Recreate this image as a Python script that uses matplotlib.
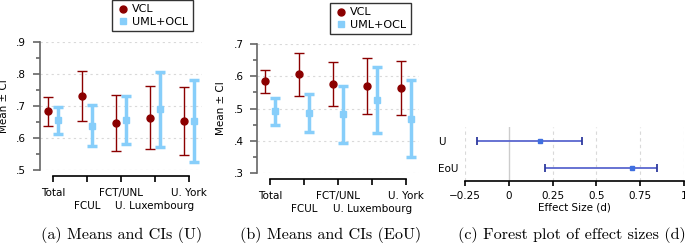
# -*- coding: utf-8 -*-
import matplotlib
matplotlib.use('Agg')
import matplotlib.pyplot as plt
from matplotlib.lines import Line2D
from matplotlib.ticker import FuncFormatter, MultipleLocator

# group labels shared by panels (a) and (b)
groups = ['Total', 'FCUL', 'FCT/UNL', 'U. Luxembourg', 'U. York']

# panel (a): usability (U)
u_vcl_mean = [0.683, 0.730, 0.647, 0.663, 0.653]
u_vcl_low = [0.636, 0.652, 0.559, 0.565, 0.547]
u_vcl_high = [0.728, 0.810, 0.733, 0.764, 0.759]
u_uml_mean = [0.657, 0.639, 0.657, 0.690, 0.653]
u_uml_low = [0.613, 0.575, 0.581, 0.573, 0.525]
u_uml_high = [0.698, 0.704, 0.732, 0.806, 0.782]

# panel (b): ease of use (EoU)
e_vcl_mean = [0.584, 0.607, 0.577, 0.571, 0.564]
e_vcl_low = [0.547, 0.539, 0.508, 0.484, 0.479]
e_vcl_high = [0.619, 0.673, 0.643, 0.656, 0.648]
e_uml_mean = [0.491, 0.487, 0.482, 0.526, 0.468]
e_uml_low = [0.449, 0.428, 0.392, 0.423, 0.349]
e_uml_high = [0.533, 0.546, 0.571, 0.630, 0.587]

# panel (c): effect sizes
es_labels = ['U', 'EoU']
es_d = [0.18, 0.70]
es_low = [-0.18, 0.208]
es_high = [0.42, 0.845]

plt.rcParams['font.family'] = ['DejaVu Sans']
plt.rcParams['font.size'] = 7.5

VCL_RED = '#8b0000'
UML_BLUE = '#87cefa'
GRID = '#d9d9d9'
SPINE = '#666666'


def nolead(v, pos):
    return ('%.1f' % v).lstrip('0')


def means_panel(fig, ax, vm, vl, vh, um, ul, uh, ylo, yhi, leg_xy):
    x = list(range(len(groups)))
    xv = [i - 0.15 for i in x]
    xu = [i + 0.15 for i in x]
    ax.errorbar(xv, vm, [[m - l for m, l in zip(vm, vl)], [h - m for m, h in zip(vm, vh)]],
                fmt='o', color=VCL_RED, ms=5, lw=1, capsize=3.5, capthick=1,
                clip_on=False, zorder=3)
    ax.errorbar(xu, um, [[m - l for m, l in zip(um, ul)], [h - m for m, h in zip(um, uh)]],
                fmt='s', color=UML_BLUE, ms=4.5, lw=2.5, capsize=3.5, capthick=2.5,
                clip_on=False, zorder=3)
    ax.set_xlim(-0.38, 4.38)
    ax.set_ylim(ylo, yhi)
    ax.yaxis.set_major_locator(MultipleLocator(0.1))
    ax.yaxis.set_minor_locator(MultipleLocator(0.05))
    ax.yaxis.set_major_formatter(FuncFormatter(nolead))
    ax.yaxis.grid(True, ls=(0, (2, 3)), color=GRID, lw=0.8)
    ax.set_axisbelow(True)
    for s in ['top', 'right']:
        ax.spines[s].set_visible(False)
    ax.spines['left'].set_color(SPINE)
    ax.spines['left'].set_linewidth(1.2)
    ax.spines['left'].set_bounds(ylo, yhi)
    ax.spines['bottom'].set_position(('outward', 4.5))
    ax.spines['bottom'].set_bounds(0, 4)
    ax.spines['bottom'].set_linewidth(1.2)
    ax.tick_params(axis='y', which='major', length=5, width=1.2, color=SPINE, pad=5)
    ax.tick_params(axis='y', which='minor', length=3, width=1.2, color=SPINE)
    ax.tick_params(axis='x', length=4.5, width=1.2, pad=4)
    ax.set_xticks(x)
    ax.set_xticklabels(groups)
    for i, lbl in enumerate(ax.get_xticklabels()):
        if i % 2 == 1:
            lbl.set_y(-0.1)
    ax.set_ylabel('Mean \u00b1 CI', labelpad=5)
    handles = [Line2D([], [], ls='none', marker='o', ms=5, color=VCL_RED),
               Line2D([], [], ls='none', marker='s', ms=5, color=UML_BLUE)]
    leg = ax.legend(handles, ['VCL', 'UML+OCL'], loc='upper left', bbox_to_anchor=leg_xy,
                    bbox_transform=fig.transFigure, frameon=True, fancybox=False,
                    edgecolor='black', fontsize=8, handletextpad=0.2, borderpad=0.4,
                    labelspacing=0.2, handlelength=1.2, borderaxespad=0)
    leg.get_frame().set_linewidth(1.0)


fig = plt.figure(figsize=(6.85, 2.46), dpi=100)

ax1 = fig.add_axes([0.0584, 0.309, 0.2365, 0.520])
means_panel(fig, ax1, u_vcl_mean, u_vcl_low, u_vcl_high, u_uml_mean, u_uml_low, u_uml_high,
            0.5, 0.9, (0.1635, 1.0))

ax2 = fig.add_axes([0.3756, 0.2967, 0.236, 0.5244])
means_panel(fig, ax2, e_vcl_mean, e_vcl_low, e_vcl_high, e_uml_mean, e_uml_low, e_uml_high,
            0.3, 0.7, (0.4818, 0.988))

ax3 = fig.add_axes([0.6784, 0.2642, 0.3206, 0.2195])
ypos = [1, 0]
xerr = [[d - l for d, l in zip(es_d, es_low)], [h - d for d, h in zip(es_d, es_high)]]
ax3.errorbar(es_d, ypos, xerr=xerr, fmt='none', ecolor='#5a67cf', elinewidth=1.3,
             capsize=0, zorder=3)
ax3.errorbar(es_d, ypos, xerr=xerr, fmt='none', ecolor='#2e3a9e', elinewidth=0,
             capsize=3, capthick=1.3, zorder=4)
ax3.plot(es_d, ypos, 's', color='#3f6fe0', ms=3.5, zorder=5)
ax3.set_xlim(-0.25, 1.0)
ax3.set_ylim(-0.5, 1.5)
ax3.set_xticks([-0.25, 0, 0.25, 0.5, 0.75, 1])
ax3.set_xticklabels(['\u22120.25', '0', '0.25', '0.5', '0.75', '1'])
for v in [-0.25, 0.25, 0.5, 0.75, 1]:
    ax3.axvline(v, color=GRID, ls=(0, (3, 3)), lw=0.8, zorder=1)
ax3.axvline(0, color='#cccccc', lw=1.0, zorder=1)
ax3.set_yticks(ypos)
ax3.set_yticklabels(es_labels, ha='left')
ax3.tick_params(axis='y', length=0, pad=19)
ax3.tick_params(axis='x', length=3.5, width=1.2, pad=3.5)
for s in ['top', 'right', 'left']:
    ax3.spines[s].set_visible(False)
ax3.spines['bottom'].set_linewidth(1.2)
ax3.set_xlabel('Effect Size (d)', labelpad=1.5)

cap = dict(family='cmr10', fontsize=11.6, ha='center', va='center')
fig.text(0.1774, 0.045, '(a) Means and CIs (U)', **cap)
fig.text(0.482, 0.045, '(b) Means and CIs (EoU)', **cap)
fig.text(0.835, 0.045, '(c) Forest plot of effect sizes (d)', **cap)

fig.savefig('out.png', dpi=100)
